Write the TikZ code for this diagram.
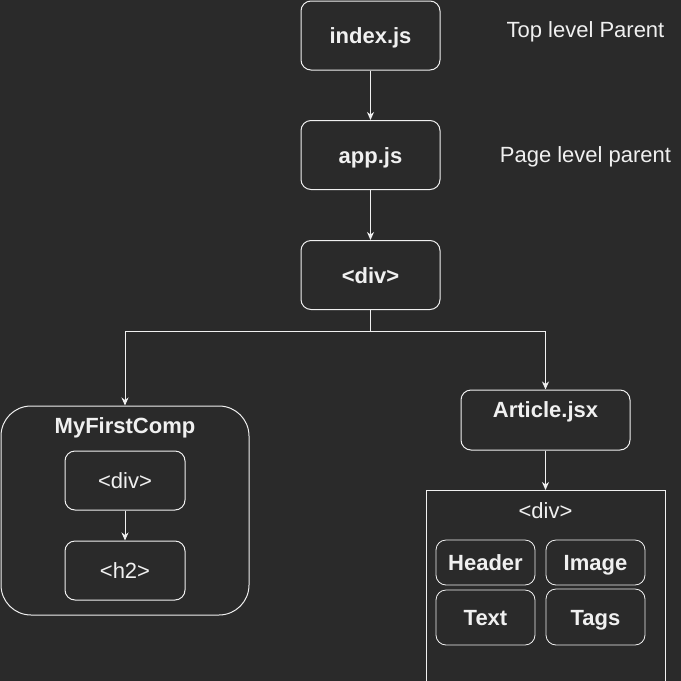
\documentclass[tikz,border=0pt]{standalone}
\usepackage{fontspec}
\setmainfont{Liberation Sans}
\usepackage{xcolor}
\usetikzlibrary{positioning,calc,arrows.meta}
\definecolor{bg}{HTML}{2A2A2A}
\definecolor{fg}{HTML}{F0F0F0}

\begin{document}
\begin{tikzpicture}[x=1pt, y=-1pt, ->, >={Stealth[length=8pt, width=7pt, inset=2.5pt]}, color=fg, line width=1pt, every node/.style={text height=16pt, text depth=0pt}, box/.style = {rectangle, rounded corners=10pt, draw=fg, fill=bg, minimum width=139pt, minimum height=69pt, inner sep=0pt, font=\fontsize{22}{26}\selectfont\bfseries}, small/.style = {box, minimum width=120pt, minimum height=59pt, font=\fontsize{22}{26}\selectfont}, part/.style = {box, minimum width=99pt, line width=0.8pt}, title/.style = {inner sep=0pt, font=\fontsize{22}{26}\selectfont\bfseries}, note/.style = {inner sep=0pt, font=\fontsize{22}{26}\selectfont}]

\fill[bg, use as bounding box] (0,0) rectangle (681,681);

\node[box] (index) at (370.5,35.5) {index.js};
\node[box] (app) at (370.5,155) {app.js};
\node[box] (div) at (370.5,275) {<div>};
\node[note] (top) at (585.5,29.3) {Top level Parent};
\node[note] (page) at (585.5,154.3) {Page level parent};

% left branch
\node[box, rounded corners=30pt, minimum width=248pt, minimum height=209pt] (comp) at (125,510.5) {};
\node[title] (comptitle) at (125,425.3) {MyFirstComp};
\node[small] (cdiv) at (125,480.5) {<div>};
\node[small] (h2) at (125,570.5) {<h2>};

% right branch
\node[box, minimum width=169pt, minimum height=60pt] (article) at (545.5,420) {};
\node[title] (articletitle) at (545.5,409.3) {Article.jsx};
\node[rectangle, draw, fill=bg, minimum width=239pt, minimum height=195pt, anchor=north, inner sep=0pt] (adiv) at (545.5,490) {};
\node[note] (adivtitle) at (545.5,510.3) {<div>};
\node[part, minimum height=45pt] (header) at (485.5,562.5) {Header};
\node[part, minimum height=45pt] (image) at (595.5,562.5) {Image};
\node[part, minimum height=55pt] (text) at (485.5,617.5) {Text};
\node[part, minimum height=56pt] (tags) at (595.5,617) {Tags};

\path
 (index) edge (app)
 (app) edge (div)
 (cdiv) edge (h2)
 (article) edge (adiv);
\draw (div.south) -- ++(0,21) -| (comp.north);
\draw (div.south) -- ++(0,21) -| (article.north);
\end{tikzpicture}
\end{document}
